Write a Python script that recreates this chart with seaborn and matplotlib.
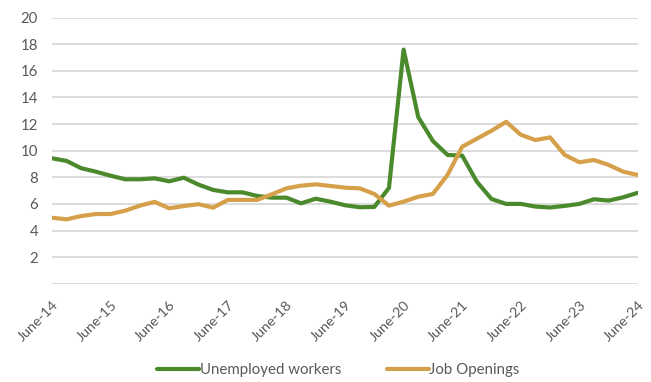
import matplotlib
matplotlib.use("Agg")
import matplotlib.pyplot as plt
import seaborn as sns
import pandas as pd
import numpy as np

# Quarterly observations, June-14 .. June-24
unemployed = [9.43, 9.23, 8.68, 8.42, 8.12, 7.85, 7.85, 7.92, 7.70, 7.97,
              7.45, 7.05, 6.87, 6.87, 6.60, 6.47, 6.47, 6.04, 6.39, 6.17,
              5.90, 5.75, 5.77, 7.20, 17.60, 12.53, 10.73, 9.68, 9.63, 7.67,
              6.37, 6.00, 6.00, 5.80, 5.73, 5.85, 6.00, 6.35, 6.25, 6.50, 6.84]
openings = [4.96, 4.84, 5.09, 5.24, 5.24, 5.49, 5.87, 6.15, 5.67, 5.84,
            5.98, 5.72, 6.30, 6.30, 6.30, 6.72, 7.17, 7.37, 7.47, 7.35,
            7.22, 7.17, 6.75, 5.87, 6.17, 6.54, 6.75, 8.18, 10.30, 10.90,
            11.50, 12.17, 11.20, 10.80, 11.00, 9.68, 9.13, 9.30, 8.93, 8.42, 8.17]
tick_labels = ["June-14", "June-15", "June-16", "June-17", "June-18", "June-19",
               "June-20", "June-21", "June-22", "June-23", "June-24"]
series_names = ["Unemployed workers", "Job Openings"]
y_ticks = [2, 4, 6, 8, 10, 12, 14, 16, 18, 20]

n = len(unemployed)
df = pd.DataFrame({
    "t": list(range(n)) * 2,
    "value": unemployed + openings,
    "series": [series_names[0]] * n + [series_names[1]] * n,
})

sns.set_theme(style="white")
plt.rcParams["font.family"] = ["Lato", "DejaVu Sans"]

fig = plt.figure(figsize=(6.51, 3.82), dpi=100)
ax = fig.add_axes([0.0799, 0.2573, 0.9001, 0.6964])

palette = {series_names[0]: "#4B8A2C", series_names[1]: "#D6A04A"}
sns.lineplot(data=df, x="t", y="value", hue="series", palette=palette,
             linewidth=3.0, ax=ax, legend=False)

ax.set_xlim(0, n - 1)
ax.set_ylim(0, 20)
ax.set_yticks([0] + y_ticks)
ax.set_yticklabels([""] + [str(v) for v in y_ticks])
ax.set_xticks(list(range(0, n, 4)))
ax.set_xticklabels(tick_labels, rotation=45, ha="right", rotation_mode="anchor")
ax.set_xlabel("")
ax.set_ylabel("")
ax.grid(axis="y", color="#D9D9D9", linewidth=1.3)
ax.set_axisbelow(True)
for s in ax.spines.values():
    s.set_visible(False)
ax.tick_params(axis="both", length=0, colors="#595959", labelsize=10.8)
ax.tick_params(axis="y", pad=10)
ax.tick_params(axis="x", pad=11, labelsize=10.3)

from matplotlib.lines import Line2D
handles = [Line2D([0], [0], color=palette[s], linewidth=3.0) for s in series_names]
leg = fig.legend(handles, series_names, loc="lower center", bbox_to_anchor=(0.52, -0.022),
                 ncol=2, frameon=False, fontsize=10.8, handlelength=2.8,
                 handletextpad=0.05, columnspacing=3.0)
for t in leg.get_texts():
    t.set_color("#595959")

fig.savefig("out.png", dpi=100)
